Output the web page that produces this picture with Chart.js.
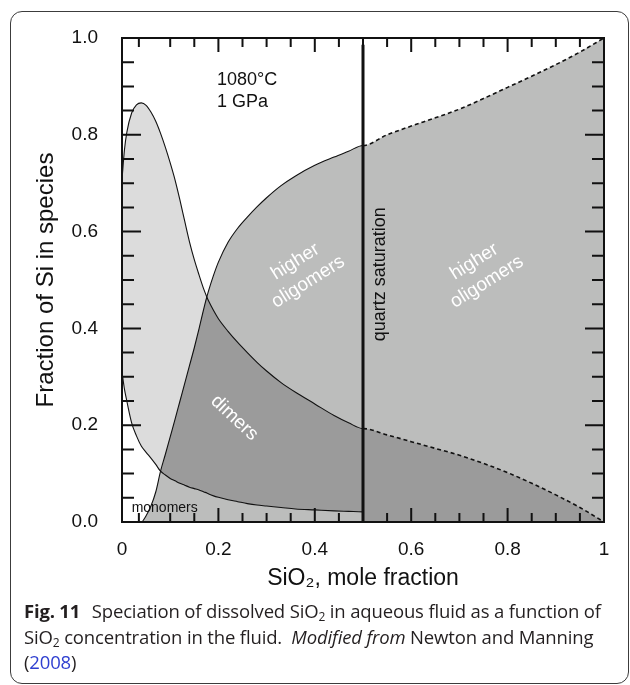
<!DOCTYPE html>
<html>
<head>
<meta charset="utf-8">
<script src="https://cdn.jsdelivr.net/npm/chart.js@4.4.1/dist/chart.umd.min.js"></script>
<style>
  html, body { margin: 0; padding: 0; background: #fff; }
  body { width: 630px; height: 685px; position: relative; overflow: hidden; }
  .box { position: absolute; left: 10px; top: 11px; width: 619px; height: 673px; box-sizing: border-box;
         border: 1px solid #3c3c3c; border-radius: 12px; }
  #plot { position: absolute; left: 0; top: 0; }
  .caption { position: absolute; left: 24px; top: 598px; font-family: 'Open Sans', sans-serif; font-size: 18.5px;
             line-height: 25.5px; color: #231f20; white-space: nowrap; letter-spacing: -0.15px; }
  .caption b { font-weight: 700; margin-right: 7px; letter-spacing: -0.2px; }
  .caption sub { font-size: 12px; vertical-align: -3px; line-height: 0; }
  .caption a { color: #2f3fd0; text-decoration: none; }
</style>
</head>
<body>
<div class="box"></div>
<canvas id="plot" width="630" height="600"></canvas>
<div class="caption">
  <b>Fig. 11</b> Speciation of dissolved SiO<sub>2</sub> in aqueous fluid as a function of<br>
  SiO<sub>2</sub> concentration in the fluid. &nbsp;<i>Modified from</i> Newton and Manning<br>
  (<a>2008</a>)
</div>
<script>
// SiO2 mole fraction (0.5 appears twice: the monomer curve stops at quartz saturation)
const xs = [0, 0.005, 0.01, 0.02, 0.03, 0.04, 0.05, 0.06, 0.07, 0.08,
  0.09, 0.10, 0.11, 0.12, 0.13, 0.14, 0.15, 0.16, 0.17, 0.176,
  0.18, 0.19, 0.20, 0.22, 0.24, 0.26, 0.28, 0.30, 0.33, 0.36,
  0.40, 0.44, 0.47, 0.50, 0.50, 0.55, 0.60, 0.65, 0.70, 0.75,
  0.80, 0.85, 0.90, 0.95, 1.00];

// upper edge of the monomer band
const monomers = [0.31, 0.275, 0.25, 0.205, 0.178, 0.157, 0.144, 0.132, 0.119, 0.105,
  0.097, 0.090, 0.085, 0.080, 0.076, 0.072, 0.069, 0.066, 0.062, 0.060,
  0.058, 0.054, 0.051, 0.046, 0.042, 0.038, 0.035, 0.033, 0.030, 0.027,
  0.025, 0.023, 0.022, 0.021, 0, 0, 0, 0, 0, 0,
  0, 0, 0, 0, 0];

// dimer curve
const dimers = [0.707, 0.768, 0.805, 0.845, 0.862, 0.866, 0.861, 0.847, 0.828, 0.803,
  0.774, 0.742, 0.707, 0.666, 0.622, 0.579, 0.542, 0.510, 0.480, 0.465,
  0.456, 0.437, 0.420, 0.394, 0.371, 0.350, 0.330, 0.312, 0.288, 0.268,
  0.244, 0.220, 0.205, 0.193, 0.193, 0.180, 0.166, 0.152, 0.138, 0.121,
  0.102, 0.080, 0.056, 0.030, 0];

// higher oligomer curve
const oligomers = [0, 0, 0, 0, 0, 0, 0.013, 0.033, 0.062, 0.105,
  0.140, 0.176, 0.212, 0.249, 0.286, 0.323, 0.360, 0.400, 0.442, 0.465,
  0.479, 0.510, 0.537, 0.578, 0.607, 0.630, 0.651, 0.670, 0.695, 0.715,
  0.737, 0.754, 0.766, 0.778, 0.778, 0.800, 0.818, 0.835, 0.853, 0.875,
  0.898, 0.921, 0.945, 0.971, 1.0];

const quartzX = 0.5;
const xTickLabels = ['0', '0.2', '0.4', '0.6', '0.8', '1'];
const yTickLabels = ['0.0', '0.2', '0.4', '0.6', '0.8', '1.0'];
const majorTicks = [0.2, 0.4, 0.6, 0.8];
const xMinorTicks = [0.035, 0.1, 0.15, 0.25, 0.3, 0.35, 0.45, 0.5, 0.55, 0.65, 0.7, 0.75, 0.85, 0.9, 0.95];
const yMinorTicks = [0.05, 0.1, 0.15, 0.25, 0.3, 0.35, 0.45, 0.5, 0.55, 0.65, 0.7, 0.75, 0.85, 0.9, 0.95];

const pts = ys => xs.map((x, i) => ({ x, y: ys[i] }));
// where dimers and oligomers overlap above the monomer band
const overlap = xs.map((x, i) => ({ x, y: Math.max(monomers[i], Math.min(dimers[i], oligomers[i])) }));

const INK = '#111';
const dashedPast = ctx => ctx.p0.parsed.x >= quartzX ? [4, 3] : undefined;

const frameTicks = {
  id: 'frameTicks',
  afterDatasetsDraw(chart) {
    const { ctx, chartArea: a, scales: { x, y } } = chart;
    ctx.save();
    ctx.strokeStyle = INK;
    ctx.lineWidth = 2;
    ctx.beginPath();
    const xt = (v, len) => {
      const px = x.getPixelForValue(v);
      ctx.moveTo(px, a.bottom); ctx.lineTo(px, a.bottom - len);
      ctx.moveTo(px, a.top); ctx.lineTo(px, a.top + len);
    };
    const yt = (v, len) => {
      const py = y.getPixelForValue(v);
      ctx.moveTo(a.left, py); ctx.lineTo(a.left + len, py);
      ctx.moveTo(a.right, py); ctx.lineTo(a.right - len, py);
    };
    xMinorTicks.forEach(v => xt(v, 9));
    majorTicks.forEach(v => xt(v, 14));
    yMinorTicks.forEach(v => yt(v, 12));
    majorTicks.forEach(v => yt(v, 19));
    ctx.stroke();
    ctx.strokeRect(a.left, a.top, a.width, a.height);

    const put = (text, vx, vy, opt) => {
      ctx.save();
      ctx.translate(x.getPixelForValue(vx), y.getPixelForValue(vy));
      ctx.rotate((opt.angle || 0) * Math.PI / 180);
      ctx.font = opt.font;
      ctx.fillStyle = opt.color;
      ctx.textAlign = opt.align || 'center';
      ctx.textBaseline = opt.baseline || 'middle';
      const lines = [].concat(text);
      const lh = opt.lineHeight || 0;
      lines.forEach((t, i) => ctx.fillText(t, 0, (i - (lines.length - 1) / 2) * lh));
      ctx.restore();
    };
    const sans = 'Liberation Sans, Arial, sans-serif';
    put('1080°C', 0.197, 0.903, { font: '18px ' + sans, color: INK, align: 'left', baseline: 'alphabetic' });
    put('1 GPa', 0.197, 0.858, { font: '18px ' + sans, color: INK, align: 'left', baseline: 'alphabetic' });
    put('monomers', 0.02, 0.021, { font: '14px ' + sans, color: INK, align: 'left', baseline: 'alphabetic' });
    put('dimers', 0.233, 0.215, { font: '19px ' + sans, color: '#fff', angle: 43 });
    put(['higher', 'oligomers'], 0.373, 0.517, { font: '19px ' + sans, color: '#fff', angle: -32, lineHeight: 24 });
    put(['higher', 'oligomers'], 0.744, 0.517, { font: '19px ' + sans, color: '#fff', angle: -32, lineHeight: 24 });
    put('quartz saturation', 0.536, 0.512, { font: '18px ' + sans, color: INK, angle: -90 });
    ctx.restore();
  }
};

Chart.defaults.font.family = 'Liberation Sans, Arial, sans-serif';
Chart.defaults.color = INK;

new Chart(document.getElementById('plot'), {
  type: 'line',
  data: {
    datasets: [
      { // 0: monomer band edge
        data: pts(monomers), order: 1, fill: false,
        borderColor: INK, borderWidth: 1.1,
        segment: { borderColor: ctx => ctx.p0.parsed.x >= quartzX ? 'rgba(0,0,0,0)' : INK }
      },
      { // 1: dimers, light fill down to the monomer band
        data: pts(dimers), order: 4, fill: '-1',
        backgroundColor: '#dcdcdc', borderColor: INK, borderWidth: 1.1,
        segment: { borderDash: dashedPast, borderWidth: ctx => ctx.p0.parsed.x >= quartzX ? 1.6 : 1.1 }
      },
      { // 2: higher oligomers, filled to zero
        data: pts(oligomers), order: 3, fill: 'origin',
        backgroundColor: '#bcbdbc', borderColor: INK, borderWidth: 1.1,
        segment: { borderDash: dashedPast, borderWidth: ctx => ctx.p0.parsed.x >= quartzX ? 1.6 : 1.1 }
      },
      { // 3: dimer/oligomer overlap
        data: overlap, order: 2, fill: '-3',
        backgroundColor: '#9b9b9b', borderColor: 'rgba(0,0,0,0)', borderWidth: 0
      },
      { // 4: quartz saturation
        data: [{ x: quartzX, y: 0 }, { x: quartzX, y: 0.986 }], order: 0, fill: false,
        borderColor: INK, borderWidth: 3, cubicInterpolationMode: 'default', tension: 0
      }
    ]
  },
  options: {
    responsive: false,
    animation: false,
    events: [],
    layout: { padding: { top: 38, right: 26, bottom: 0, left: 0 } },
    elements: { point: { radius: 0 }, line: { cubicInterpolationMode: 'monotone' } },
    plugins: {
      legend: { display: false },
      tooltip: { enabled: false },
      filler: { drawTime: 'beforeDatasetsDraw' }
    },
    scales: {
      x: {
        type: 'linear', min: 0, max: 1,
        grid: { display: false }, border: { display: false },
        ticks: { stepSize: 0.2, padding: 8, font: { size: 19 }, callback: (v, i) => xTickLabels[i] },
        title: { display: true, text: 'SiO₂, mole fraction', font: { size: 23 }, padding: { top: 0, bottom: 8 } },
        afterFit: s => { s.height = 78; }
      },
      y: {
        type: 'linear', min: 0, max: 1,
        grid: { display: false }, border: { display: false },
        ticks: { stepSize: 0.2, padding: 16, font: { size: 19 }, callback: (v, i) => yTickLabels[i] },
        title: { display: true, text: 'Fraction of Si in species', font: { size: 24 }, padding: { top: 32, bottom: 0 } },
        afterFit: s => { s.width = 122; }
      }
    }
  },
  plugins: [frameTicks]
});
</script>
</body>
</html>
